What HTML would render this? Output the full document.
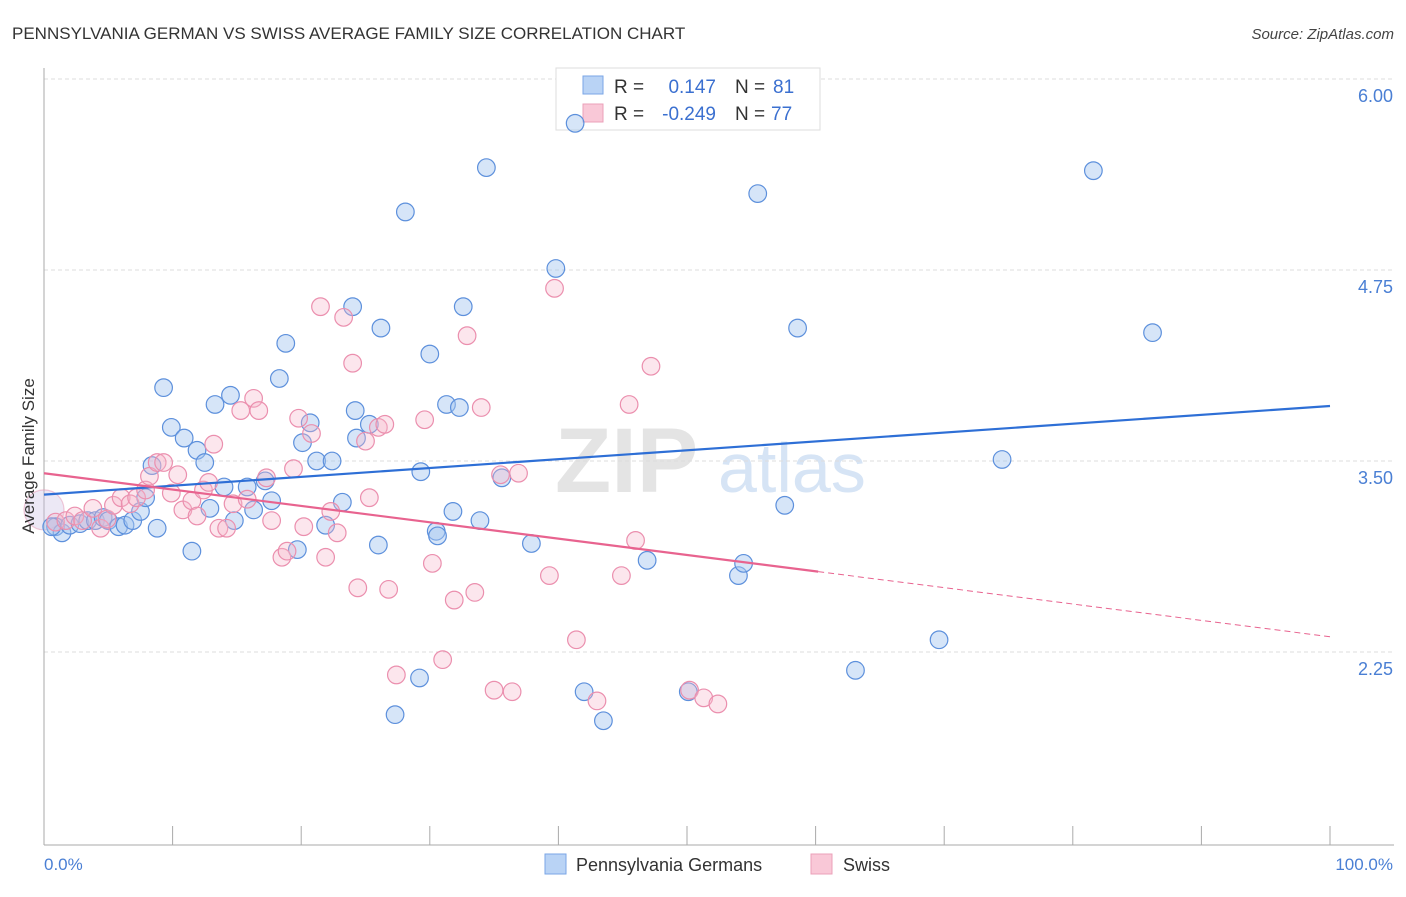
<!DOCTYPE html>
<html><head><meta charset="utf-8"><style>
body{margin:0;background:#fff;font-family:"Liberation Sans",sans-serif;}
svg text{font-family:"Liberation Sans",sans-serif;}
</style></head><body>
<svg id="chart" width="1406" height="892" xmlns="http://www.w3.org/2000/svg">
<text x="12" y="39" font-size="17" fill="#333">PENNSYLVANIA GERMAN VS SWISS AVERAGE FAMILY SIZE CORRELATION CHART</text>
<text x="1394" y="39" font-size="15" font-style="italic" fill="#444" text-anchor="end">Source: ZipAtlas.com</text>
<text x="555" y="492" font-size="92" font-family="Liberation Serif" fill="#e4e4e4" font-weight="bold">ZIP</text>
<text x="718" y="492" font-size="70" fill="#d6e4f5">atlas</text>
<g id="grid"></g>
<g id="axes"></g>
<g>
<rect x="556" y="68" width="264" height="62" fill="#fff" stroke="#ddd"/>
<rect x="583" y="76" width="20" height="18" fill="#b9d3f5" stroke="#7aa6e6"/>
<rect x="583" y="104" width="20" height="18" fill="#f9c8d7" stroke="#eba0b9"/>
<text x="614" y="93" font-size="19" fill="#333">R =</text>
<text x="716" y="93" font-size="19" fill="#3b70d0" text-anchor="end">0.147</text>
<text x="735" y="93" font-size="19" fill="#333">N =</text>
<text x="773" y="93" font-size="19" fill="#3b70d0">81</text>
<text x="614" y="120" font-size="19" fill="#333">R =</text>
<text x="716" y="120" font-size="19" fill="#3b70d0" text-anchor="end">-0.249</text>
<text x="735" y="120" font-size="19" fill="#333">N =</text>
<text x="771" y="120" font-size="19" fill="#3b70d0">77</text>
</g>
<g id="pts"></g>
<g id="trend"></g>
<text transform="translate(34,456) rotate(-90)" font-size="17" fill="#333" text-anchor="middle">Average Family Size</text>
<text x="44" y="870" font-size="17" fill="#4a7fd4">0.0%</text>
<text x="1393" y="870" font-size="17" fill="#4a7fd4" text-anchor="end">100.0%</text>
<g>
<rect x="545" y="854" width="21" height="20" fill="#b9d3f5" stroke="#7aa6e6"/>
<text x="576" y="871" font-size="18" fill="#333">Pennsylvania Germans</text>
<rect x="811" y="854" width="21" height="20" fill="#f9c8d7" stroke="#eba0b9"/>
<text x="843" y="871" font-size="18" fill="#333">Swiss</text>
</g>
</svg>
<script>
const yTicks=[6.00,4.75,3.50,2.25];
const yTickLabels=["6.00","4.75","3.50","2.25"];
const xTicks=[0,10,20,30,40,50,60,70,80,90,100];
const blueX=[0.9,1.4,0.6,2.0,2.8,3.4,4.0,4.6,5.0,5.8,6.3,6.9,7.5,7.9,8.4,8.8,9.3,9.9,10.9,11.5,11.9,12.5,12.9,13.3,14.0,14.5,14.8,15.8,16.3,17.2,17.7,18.3,18.8,19.7,20.1,20.7,21.2,21.9,22.4,23.2,24.0,24.2,24.3,25.3,26.0,26.2,27.3,28.1,29.2,29.3,30.0,30.5,30.6,31.3,31.8,32.3,32.6,33.9,34.4,35.6,37.9,39.8,41.3,42.0,43.5,46.9,50.1,54.0,54.4,55.5,57.6,58.6,63.1,69.6,74.5,81.6,86.2];
const blueY=[3.07,3.03,3.07,3.08,3.09,3.11,3.11,3.13,3.11,3.07,3.08,3.11,3.17,3.26,3.47,3.06,3.98,3.72,3.65,2.91,3.57,3.49,3.19,3.87,3.33,3.93,3.11,3.33,3.18,3.37,3.24,4.04,4.27,2.92,3.62,3.75,3.50,3.08,3.50,3.23,4.51,3.83,3.65,3.74,2.95,4.37,1.84,5.13,2.08,3.43,4.20,3.04,3.01,3.87,3.17,3.85,4.51,3.11,5.42,3.39,2.96,4.76,5.71,1.99,1.80,2.85,1.99,2.75,2.83,5.25,3.21,4.37,2.13,2.33,3.51,5.40,4.34];
const pinkX=[0.9,1.7,2.4,3.0,3.8,4.4,4.9,5.4,6.0,6.7,7.2,7.9,8.2,8.8,9.3,9.9,10.4,10.8,11.5,11.9,12.4,12.8,13.2,13.6,14.2,14.7,15.3,15.8,16.3,16.7,17.3,17.7,18.5,18.9,19.4,19.8,20.2,20.8,21.5,21.9,22.3,22.8,23.3,24.0,24.4,25.0,25.3,26.0,26.5,26.8,27.4,29.6,30.2,31.0,31.9,32.9,33.5,34.0,35.0,35.5,36.4,36.9,39.3,39.7,41.4,43.0,44.9,45.5,46.0,47.2,50.2,51.3,52.4];
const pinkY=[3.10,3.11,3.14,3.11,3.19,3.06,3.12,3.21,3.26,3.22,3.26,3.31,3.40,3.49,3.49,3.29,3.41,3.18,3.24,3.14,3.31,3.36,3.61,3.06,3.06,3.22,3.83,3.25,3.91,3.83,3.39,3.11,2.87,2.91,3.45,3.78,3.07,3.68,4.51,2.87,3.17,3.03,4.44,4.14,2.67,3.63,3.26,3.72,3.74,2.66,2.10,3.77,2.83,2.20,2.59,4.32,2.64,3.85,2.00,3.41,1.99,3.42,2.75,4.63,2.33,1.93,2.75,3.87,2.98,4.12,2.00,1.95,1.91];
const blueTrend=[3.28,3.86];
const pinkTrend=[3.42,2.35];
const pinkSolidEnd=[60.2];
const bigPoint=[0,3.18];

const NS="http://www.w3.org/2000/svg";
const X=p=>44+p*12.86;
const Y=v=>461-(v-3.5)*152.8;
function mk(tag,attrs,parent){const e=document.createElementNS(NS,tag);for(const k in attrs)e.setAttribute(k,attrs[k]);parent.appendChild(e);return e;}
const grid=document.getElementById('grid'),axes=document.getElementById('axes'),pts=document.getElementById('pts'),trend=document.getElementById('trend');
yTicks.forEach((t,i)=>{
 const l=mk('line',{x1:44,x2:1394,y1:Y(t),y2:Y(t),stroke:'#ddd','stroke-dasharray':'4,3'},grid);
 
 
 const tx=mk('text',{x:1393,y:Y(t)+23,'font-size':18,fill:'#4a7fd4','text-anchor':'end'},grid);
 tx.textContent=yTickLabels[i];
 
 
});
const ya=mk('line',{x1:44,x2:44,y1:68,y2:845,stroke:'#aaa'},axes);


const xa=mk('line',{x1:44,x2:1394,y1:845,y2:845,stroke:'#aaa'},axes);


xTicks.forEach(t=>{
 const l=mk('line',{x1:X(t),x2:X(t),y1:826,y2:845,stroke:'#aaa'},axes);
 
 
});
function dot(x,y,r,fill,stroke,name){
 const c=mk('circle',{cx:X(x),cy:Y(y),r:r,fill:fill,stroke:stroke,'stroke-width':1.2},pts);
 
 
}
dot(bigPoint[0],bigPoint[1],20,'rgba(200,190,225,0.35)','rgba(230,150,180,0.5)','big-point');
blueX.forEach((x,i)=>dot(x,blueY[i],8.8,'rgba(165,198,240,0.45)','#5d90dc','point-pennsylvania-germans'));
pinkX.forEach((x,i)=>dot(x,pinkY[i],8.8,'rgba(246,184,204,0.35)','#eb8fae','point-swiss'));
const bl=mk('line',{x1:X(0),y1:Y(blueTrend[0]),x2:X(100),y2:Y(blueTrend[1]),stroke:'#2e6fd6','stroke-width':2.2},trend);


const pv=p=>pinkTrend[0]+(pinkTrend[1]-pinkTrend[0])*p/100;
const pl=mk('line',{x1:X(0),y1:Y(pinkTrend[0]),x2:X(pinkSolidEnd[0]),y2:Y(pv(pinkSolidEnd[0])),stroke:'#e8638f','stroke-width':2.2},trend);


const pd=mk('line',{x1:X(pinkSolidEnd[0]),y1:Y(pv(pinkSolidEnd[0])),x2:X(100),y2:Y(pinkTrend[1]),stroke:'#e8638f','stroke-width':1,'stroke-dasharray':'6,4'},trend);


</script>
</body></html>
